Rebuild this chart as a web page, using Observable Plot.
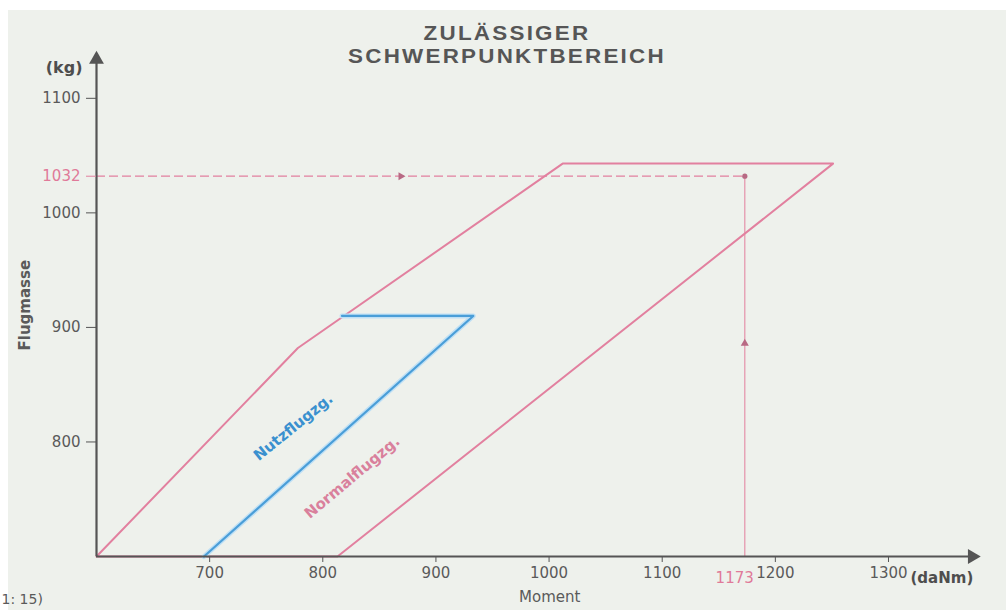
<!DOCTYPE html>
<html>
<head>
<meta charset="utf-8">
<script src="https://cdn.jsdelivr.net/npm/d3@7"></script>
<script src="https://cdn.jsdelivr.net/npm/@observablehq/plot@0.6"></script>
<style>
  html, body { margin: 0; padding: 0; background: #ffffff; }
  #paper { position: absolute; left: 8px; top: 10px; width: 998px; height: 600px; background: #eef1ec; }
  #chart { position: absolute; left: 0; top: 0; width: 1006px; height: 610px; }
  #title { position: absolute; left: 0; top: 22px; width: 1014px; text-align: center;
           font-family: "Liberation Sans", Arial, sans-serif; font-weight: bold; font-size: 20px;
           letter-spacing: 2px; line-height: 23px; color: #565656;
           transform: scaleX(1.12); transform-origin: 507px 0; }
</style>
</head>
<body>
<div id="paper"></div>
<div id="chart"></div>
<div id="title">ZULÄSSIGER<br>SCHWERPUNKTBEREICH</div>
<script>
// Normalflugzeug envelope (Moment daNm, Flugmasse kg)
const normalX = [600, 778, 1012, 1251, 813];
const normalY = [700, 882, 1043, 1043, 700];
// Nutzflugzeug envelope
const utilX = [817, 933, 695];
const utilY = [910, 910, 700];
// Example reading
const readX = 1173;
const readY = 1032;
// Tick values
const xTicks = [700, 800, 900, 1000, 1100, 1200, 1300];
const yTicks = [800, 900, 1000, 1100];
// Region labels
const regionNames = ["Nutzflugzg.", "Normalflugzg."];
const regionX = [774, 826];
const regionY = [813, 769];
const regionAngle = [-39, -40];
const regionColor = ["#3a90cf", "#d9809c"];

const pink = "#e2809f";
const pinkDark = "#b86a84";
const blue = "#4a9ed8";
const axisCol = "#555555";

const normal = normalX.map((x, i) => ({x, y: normalY[i]}));
normal.push(normal[0]);
const util = utilX.map((x, i) => ({x, y: utilY[i]}));
const labels = regionNames.map((t, i) => ({t, x: regionX[i], y: regionY[i], a: regionAngle[i], c: regionColor[i]}));

const chart = Plot.plot({
  width: 1006,
  height: 610,
  marginLeft: 96,
  marginRight: 27.5,
  marginBottom: 54,
  marginTop: 52,
  style: {background: "transparent", fontFamily: "DejaVu Sans, sans-serif", fontSize: "15px", color: "#5a5a5a"},
  x: {domain: [600, 1380]},
  y: {domain: [700, 1140]},
  marks: [
    // dashed reading lines
    Plot.ruleY([readY], {x1: 600, x2: readX, stroke: pink, strokeWidth: 1.3, strokeDasharray: "9,4"}),
    Plot.ruleX([readX], {y1: 700, y2: readY, stroke: pink, strokeWidth: 1.2, strokeOpacity: 0.85}),
    Plot.dot([{x: 869, y: readY}], {x: "x", y: "y", symbol: "triangle", rotate: 90, r: 3, fill: pinkDark}),
    Plot.dot([{x: readX, y: 886}], {x: "x", y: "y", symbol: "triangle", rotate: 0, r: 3, fill: pinkDark}),
    Plot.dot([{x: readX, y: readY}], {x: "x", y: "y", r: 2.6, fill: pinkDark}),
    // envelopes
    Plot.line(normal, {x: "x", y: "y", stroke: pink, strokeWidth: 2}),
    Plot.line(util, {x: "x", y: "y", stroke: "#bfe0f5", strokeWidth: 5}),
    Plot.line(util, {x: "x", y: "y", stroke: blue, strokeWidth: 2.2}),
    // region labels
    Plot.text(labels, {x: "x", y: "y", text: "t", rotate: "a", fill: "c", fontSize: 15, fontWeight: "bold", fontFamily: "DejaVu Sans, sans-serif"}),
    // axes lines with arrowheads
    Plot.ruleY([700], {x1: 600, x2: 1374, stroke: axisCol, strokeWidth: 2.2}),
    Plot.ruleX([600], {y1: 700, y2: 1134, stroke: axisCol, strokeWidth: 2.2}),
    Plot.dot([{x: 1374, y: 700}], {x: "x", y: "y", symbol: "triangle", rotate: 90, r: 5.5, fill: axisCol}),
    Plot.dot([{x: 600, y: 1134}], {x: "x", y: "y", symbol: "triangle", rotate: 0, r: 5.5, fill: axisCol}),
    // ticks and labels
    Plot.axisX({ticks: xTicks, tickFormat: d => String(d), tickSize: 6, tickPadding: 5, label: null, stroke: axisCol, fill: "#5a5a5a", fontSize: 15}),
    Plot.axisY({ticks: yTicks, tickFormat: d => String(d), tickSize: 10, tickPadding: 6, label: null, stroke: axisCol, fill: "#5a5a5a", fontSize: 15}),
    Plot.axisY({ticks: [readY], tickFormat: d => String(d), tickSize: 10, tickPadding: 6, label: null, stroke: pink, fill: "#e07a99", fontSize: 15}),
    Plot.text([String(readX)], {x: () => readX, y: () => 700, text: d => d, dy: 22, dx: 9, textAnchor: "end", fill: "#e07a99", fontSize: 15}),
    Plot.text(["(daNm)"], {x: () => 1300, y: () => 700, text: d => d, dy: 22, dx: 22, textAnchor: "start", fill: "#4e4e4e", fontSize: 15, fontWeight: "bold"}),
    // axis titles
    Plot.text(["(kg)"], {frameAnchor: "top-left", text: d => d, dx: -14, dy: 9, textAnchor: "end", fill: "#4e4e4e", fontSize: 16, fontWeight: "bold"}),
    Plot.text(["Flugmasse"], {frameAnchor: "left", text: d => d, rotate: -90, dx: -71, dy: 46, fill: "#5a5a5a", fontSize: 15, fontWeight: "bold"}),
    Plot.text(["Moment"], {frameAnchor: "bottom", text: d => d, dx: 12, dy: 45, fill: "#5a5a5a", fontSize: 15}),
    Plot.text(["1: 15)"], {frameAnchor: "bottom-left", text: d => d, dx: -95, dy: 47, textAnchor: "start", fill: "#5a5a5a", fontSize: 14})
  ]
});
document.getElementById("chart").appendChild(chart);
</script>
</body>
</html>
